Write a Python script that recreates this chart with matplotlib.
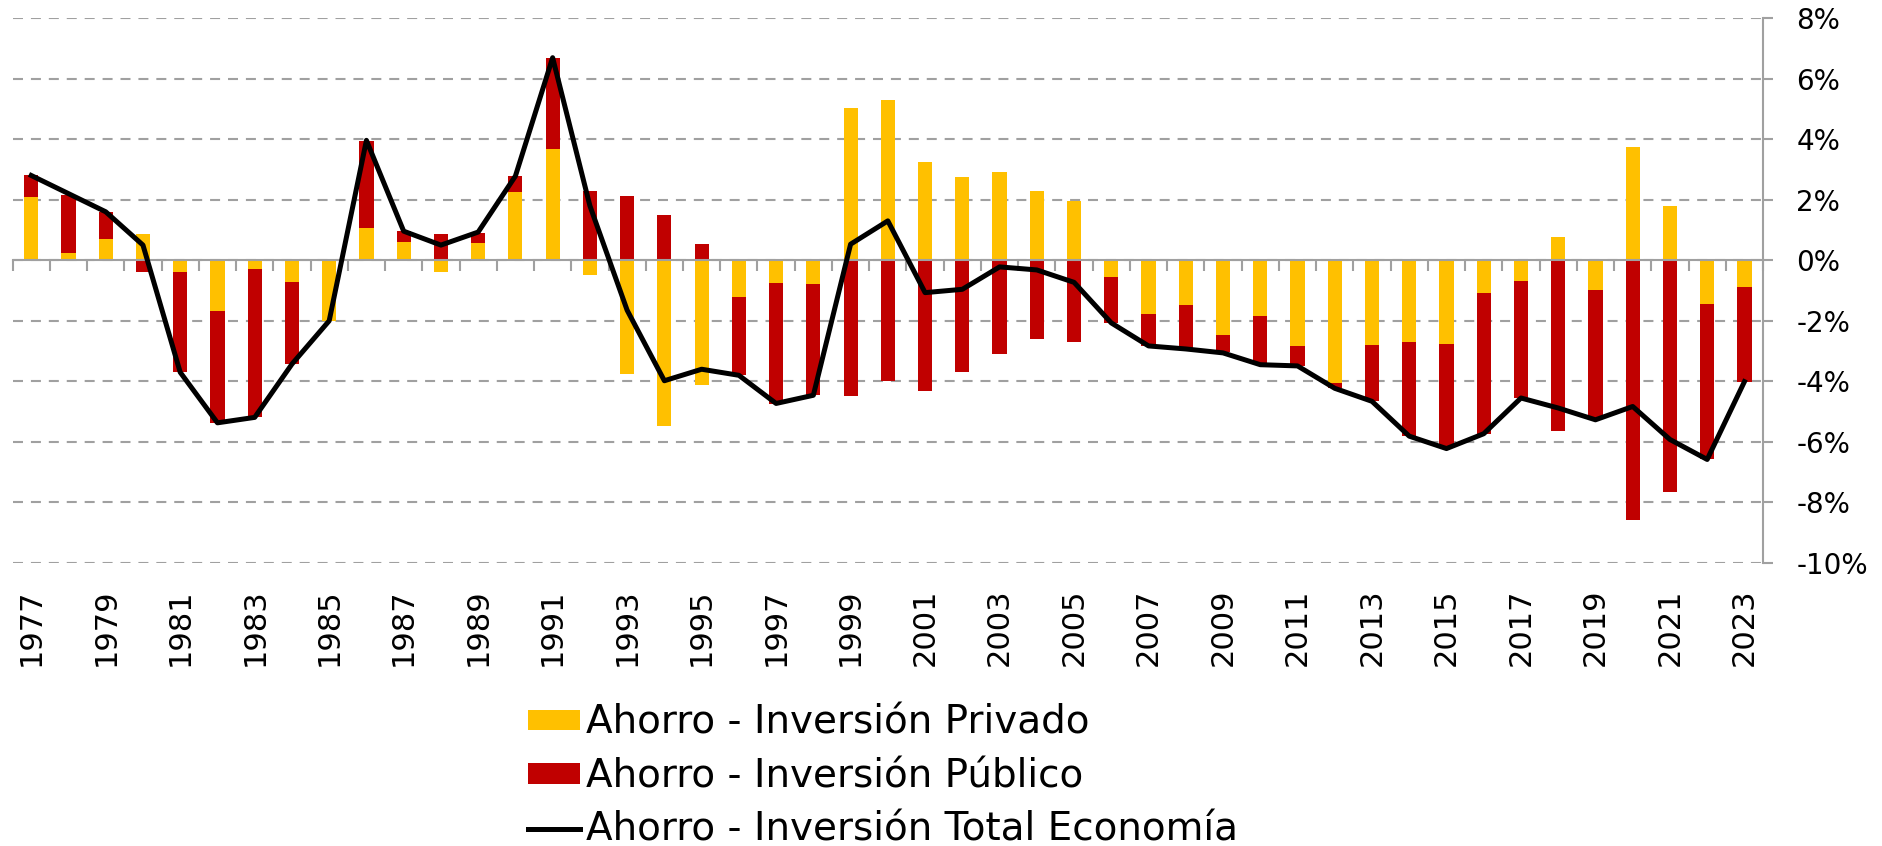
import numpy as np
import matplotlib
matplotlib.use('Agg')
import matplotlib.pyplot as plt

# Datos (% del PIB)
anios = list(range(1977, 2024))
privado = [2.10, 0.25, 0.70, 0.86, -0.40, -1.67, -0.28, -0.72, -2.00, 1.05,
           0.59, -0.38, 0.57, 2.24, 3.66, -0.50, -3.76, -5.49, -4.13, -1.20,
           -0.74, -0.80, 5.02, 5.30, 3.26, 2.75, 2.90, 2.29, 1.96, -0.56,
           -1.77, -1.47, -2.46, -1.83, -2.84, -4.06, -2.79, -2.70, -2.76, -1.08,
           -0.70, 0.77, -0.97, 3.74, 1.78, -1.43, -0.90]
publico = [0.70, 1.90, 0.90, -0.38, -3.30, -3.70, -4.90, -2.70, -0.02, 2.90,
           0.37, 0.86, 0.34, 0.54, 3.03, 2.29, 2.11, 1.48, 0.53, -2.60,
           -4.00, -3.66, -4.50, -4.00, -4.33, -3.70, -3.09, -2.59, -2.69, -1.50,
           -1.05, -1.45, -0.58, -1.60, -0.65, -0.16, -1.85, -3.09, -3.40, -4.65,
           -3.85, -5.64, -4.28, -8.57, -7.66, -5.14, -3.11]
total = [2.80, 2.20, 1.60, 0.50, -3.70, -5.37, -5.19, -3.43, -2.00, 3.96,
         0.96, 0.50, 0.93, 2.78, 6.69, 1.80, -1.65, -3.98, -3.60, -3.80,
         -4.73, -4.46, 0.53, 1.30, -1.07, -0.96, -0.22, -0.32, -0.73, -2.07,
         -2.83, -2.93, -3.06, -3.45, -3.49, -4.23, -4.66, -5.81, -6.22, -5.73,
         -4.55, -4.88, -5.27, -4.83, -5.92, -6.58, -4.01]
ticks_y = [-10, -8, -6, -4, -2, 0, 2, 4, 6, 8]

nombres = ['Ahorro - Inversión Privado',
           'Ahorro - Inversión Público',
           'Ahorro - Inversión Total Economía']

gris = '#A0A0A0'

fig = plt.figure(figsize=(18.83, 8.46), dpi=100)
ax = fig.add_axes([0.0067, 0.3345, 0.9296, 0.6442])

x = np.arange(len(anios))
priv = np.array(privado)
pub = np.array(publico)
# apilado tipo Excel: positivos sobre positivos, negativos bajo negativos
base_pub = np.where(np.sign(pub) == np.sign(priv), priv, 0)

b1 = ax.bar(x, priv, width=0.38, color='#FFC000', zorder=2)
b2 = ax.bar(x, pub, bottom=base_pub, width=0.38, color='#C00000', zorder=2)
l1, = ax.plot(x, total, color='black', linewidth=3.6, zorder=4)

ax.set_xlim(-0.5, len(anios) - 0.5)
ax.set_ylim(-10, 8)

# Eje horizontal en 0 con marcas entre categorias
ax.spines['bottom'].set_position(('data', 0))
ax.spines['bottom'].set_color(gris)
ax.spines['bottom'].set_linewidth(1.5)
ax.set_xticks(np.arange(-0.5, len(anios) + 0.5, 1))
ax.tick_params(axis='x', direction='out', length=8, width=1.5, color=gris,
               labelbottom=False)

# Etiquetas de anios abajo
sec = ax.secondary_xaxis('bottom')
sec.set_xticks(x[::2], [str(a) for a in anios[::2]])
sec.tick_params(length=0, pad=18, labelsize=22, labelrotation=90)
sec.spines['bottom'].set_visible(False)

# Eje vertical a la derecha
ax.spines['left'].set_visible(False)
ax.spines['top'].set_visible(False)
ax.spines['right'].set_color(gris)
ax.spines['right'].set_linewidth(1.5)
ax.yaxis.tick_right()
ax.set_yticks(ticks_y)
ax.set_yticklabels([f'{v}%' for v in ticks_y])
ax.tick_params(axis='y', direction='out', length=7, width=1.5, color=gris,
               labelsize=20, pad=17)

ax.set_axisbelow(True)
ax.yaxis.grid(True, color=gris, linestyle=(0, (4.8, 3.8)), linewidth=1.5)

fig.legend([b1, b2, l1], nombres, loc='upper left', bbox_to_anchor=(0.2804, 0.1680),
           frameon=False, fontsize=28, handlelength=1.34, handleheight=0.45,
           handletextpad=0.15, labelspacing=0.40, borderpad=0, borderaxespad=0)

fig.savefig('out.png', dpi=100)
